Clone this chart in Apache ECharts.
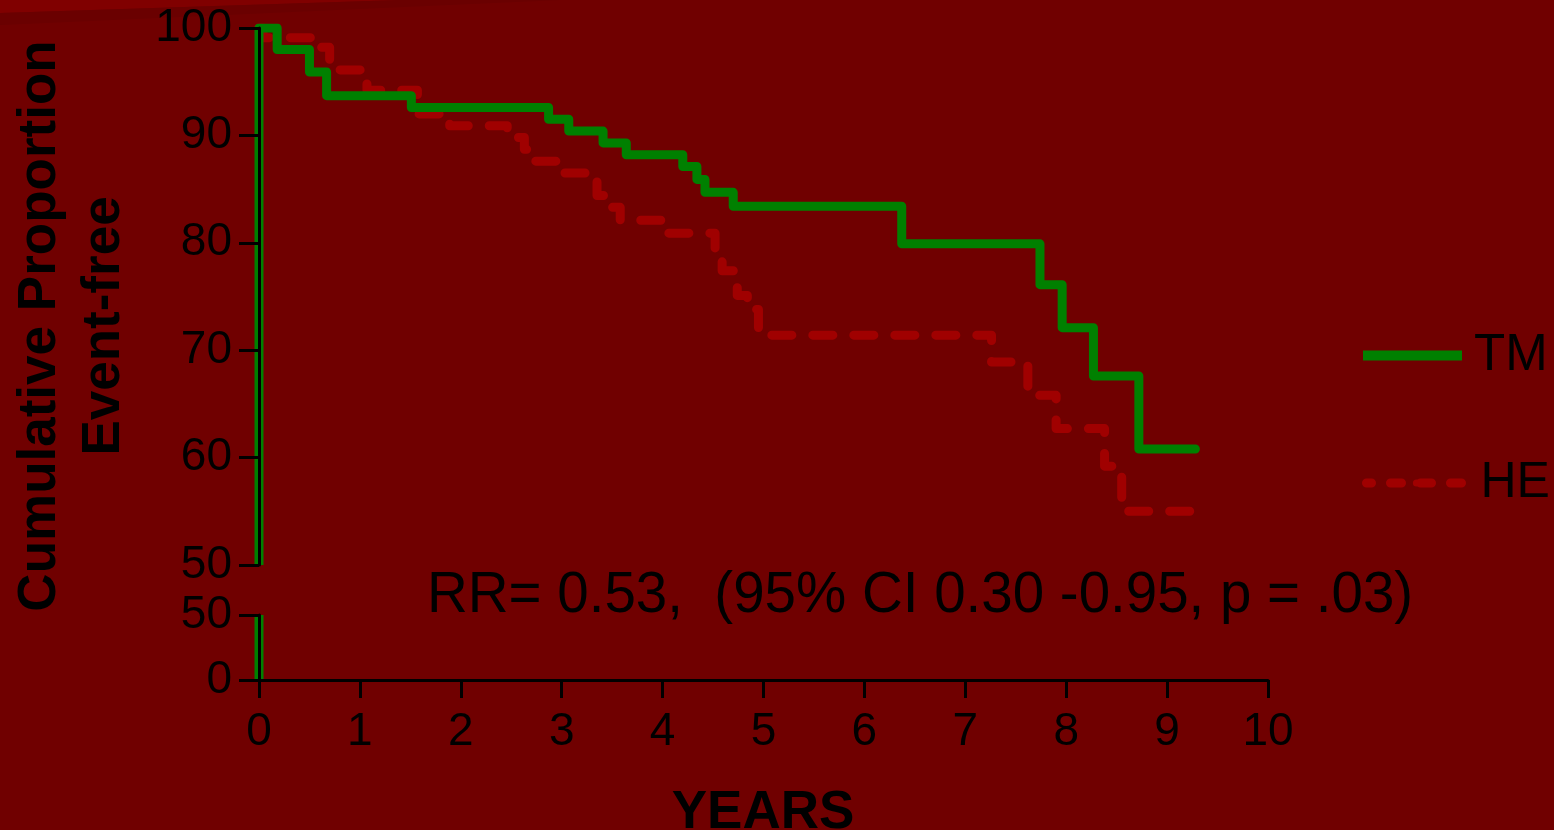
<!DOCTYPE html>
<html>
<head>
<meta charset="utf-8">
<script src="https://cdn.jsdelivr.net/npm/echarts@6/dist/echarts.min.js"></script>
<style>
  html, body { margin: 0; padding: 0; background: #700000; }
  #chart { width: 1554px; height: 830px; }
</style>
</head>
<body>
<div id="chart"></div>
<script>
// Kaplan–Meier event-free curves: time in years and cumulative % event-free after each step
const tmYears    = [0, 0.18, 0.50, 0.67, 1.51, 2.87, 3.07, 3.41, 3.64, 4.20, 4.34, 4.42, 4.70, 6.37, 7.74, 7.96, 8.27, 8.72, 9.28];
const tmSurvival = [100, 98.0, 95.9, 93.7, 92.6, 91.5, 90.4, 89.3, 88.2, 87.1, 85.9, 84.7, 83.4, 79.9, 76.1, 72.1, 67.6, 60.8, 60.8];

const heYears    = [0, 0.04, 0.56, 0.70, 1.07, 1.57, 1.89, 2.46, 2.63, 2.74, 3.01, 3.35, 3.45, 3.58, 4.02, 4.52, 4.59, 4.74, 4.84, 4.95, 7.26, 7.62, 7.90, 8.38, 8.55, 9.30];
const heSurvival = [100, 99.1, 98.2, 96.1, 94.2, 92.0, 90.9, 89.8, 88.7, 87.6, 86.5, 84.4, 83.3, 82.1, 80.9, 79.1, 77.4, 75.1, 73.8, 71.4, 68.9, 65.8, 62.7, 59.2, 55.0, 55.0];

// Broken y axis: upper panel 50–100, lower panel 0–50
const upperRange = [50, 100];
const lowerRange = [0, 50];
const upperStep = 10;
const lowerStep = 50;
const yearRange = [0, 10];
const yearStep = 1;

const seriesNames = ['TM', 'HE'];
const statsText = 'RR= 0.53,  (95% CI 0.30 -0.95, p = .03)';
const xTitle = 'YEARS';
const yTitle = ['Cumulative Proportion', 'Event-free'];

const FONT = '"Liberation Sans", Arial, Helvetica, sans-serif';
const GREEN = '#008000';
const RED = '#a00000';

const zip = (xs, ys) => xs.map((x, i) => [x, ys[i]]);
const tmData = zip(tmYears, tmSurvival);
const heData = zip(heYears, heSurvival);

const chart = echarts.init(document.getElementById('chart'), null, { renderer: 'canvas' });

const axisLineStyle = { show: true, onZero: false, lineStyle: { color: '#000', width: 3 } };
const labelStyle = { color: '#000', fontSize: 46, fontFamily: FONT };

function valueAxis(grid, range, step) {
  return {
    type: 'value', gridIndex: grid, min: range[0], max: range[1], interval: step,
    z: 10,
    axisLine: axisLineStyle,
    axisTick: { show: true, length: 20, lineStyle: { color: '#000', width: 3 } },
    axisLabel: Object.assign({ margin: 27 }, labelStyle),
    splitLine: { show: false }
  };
}

// inward tick marking the axis break
function breakTickAxis(grid, range) {
  return {
    type: 'value', gridIndex: grid, min: range[0], max: range[1],
    z: 10,
    axisLine: { show: false },
    axisTick: { show: true, inside: true, length: 13, customValues: [50], lineStyle: { color: '#000', width: 3 } },
    axisLabel: { show: false },
    splitLine: { show: false }
  };
}

const curveBase = {
  type: 'line', step: 'end', symbol: 'none', showSymbol: false,
  animation: false, silent: true
};

const option = {
  backgroundColor: '#700000',
  animation: false,
  grid: [
    { left: 259, width: 1009, top: 28, height: 537 },
    { left: 259, width: 1009, top: 615, height: 65 }
  ],
  xAxis: [
    { type: 'value', gridIndex: 0, min: yearRange[0], max: yearRange[1], interval: yearStep, show: false },
    {
      type: 'value', gridIndex: 1, min: yearRange[0], max: yearRange[1], interval: yearStep,
      z: 10,
      axisLine: axisLineStyle,
      axisTick: { show: true, length: 18, lineStyle: { color: '#000', width: 3 } },
      axisLabel: Object.assign({ margin: 29 }, labelStyle),
      splitLine: { show: false }
    }
  ],
  yAxis: [
    valueAxis(0, upperRange, upperStep),
    valueAxis(1, lowerRange, lowerStep),
    breakTickAxis(0, upperRange),
    breakTickAxis(1, lowerRange)
  ],
  legend: [
    {
      data: [{ name: seriesNames[0], lineStyle: { width: 10, cap: 'butt' } }],
      left: 1358, top: 330, padding: 0,
      itemWidth: 99, itemHeight: 10,
      textStyle: { color: '#000', fontSize: 51, fontFamily: FONT, padding: [0, 0, 0, 7] },
      selectedMode: false
    },
    {
      data: [{ name: seriesNames[1], lineStyle: { width: 9, type: [11, 19], cap: 'round', dashOffset: 6 } }],
      left: 1362, top: 458, padding: 0,
      itemWidth: 100, itemHeight: 9,
      textStyle: { color: '#000', fontSize: 50, fontFamily: FONT, padding: [0, 0, 0, 9] },
      selectedMode: false
    }
  ],
  series: [
    Object.assign({}, curveBase, {
      name: seriesNames[1], xAxisIndex: 0, yAxisIndex: 0, z: 2,
      data: heData,
      lineStyle: { color: RED, width: 9, type: [20, 21], cap: 'round', join: 'round' },
      itemStyle: { color: RED }
    }),
    Object.assign({}, curveBase, {
      name: seriesNames[0], xAxisIndex: 0, yAxisIndex: 0, z: 3,
      data: tmData,
      lineStyle: { color: GREEN, width: 9, cap: 'round', join: 'round' },
      itemStyle: { color: GREEN }
    }),
    // vertical drop of the TM curve at time zero, in both panels
    Object.assign({}, curveBase, {
      name: 'TM-start-upper', xAxisIndex: 0, yAxisIndex: 0, z: 3, step: false,
      data: upperRange.map(v => [tmYears[0], v]),
      lineStyle: { color: GREEN, width: 9, cap: 'butt' }
    }),
    Object.assign({}, curveBase, {
      name: 'TM-start-lower', xAxisIndex: 1, yAxisIndex: 1, z: 3, step: false,
      data: lowerRange.map(v => [tmYears[0], v]),
      lineStyle: { color: GREEN, width: 9, cap: 'butt' }
    })
  ],
  graphic: [
    // lighter wedge across the top-left corner
    { type: 'polygon', z: -10, shape: { points: [[0, 0], [400, 0], [0, 13]] }, style: { fill: '#800000' } },
    { type: 'polygon', z: -10, shape: { points: [[0, 13], [400, 0], [560, 0], [0, 25]] }, style: { fill: '#6a0000' } },
    {
      type: 'text', x: 40, y: 326, rotation: Math.PI / 2, z: 20,
      style: { text: yTitle[0], font: 'bold 53px ' + FONT, fill: '#000', align: 'center', verticalAlign: 'middle' }
    },
    {
      type: 'text', x: 104, y: 326, rotation: Math.PI / 2, z: 20,
      style: { text: yTitle[1], font: 'bold 53px ' + FONT, fill: '#000', align: 'center', verticalAlign: 'middle' }
    },
    {
      type: 'text', x: 763, y: 813, z: 20,
      style: { text: xTitle, font: 'bold 53px ' + FONT, fill: '#000', align: 'center', verticalAlign: 'middle' }
    },
    {
      type: 'text', x: 427, y: 596, z: 20,
      style: { text: statsText, font: '56.5px ' + FONT, fill: '#000', align: 'left', verticalAlign: 'middle' }
    }
  ]
};

chart.setOption(option);
</script>
</body>
</html>
